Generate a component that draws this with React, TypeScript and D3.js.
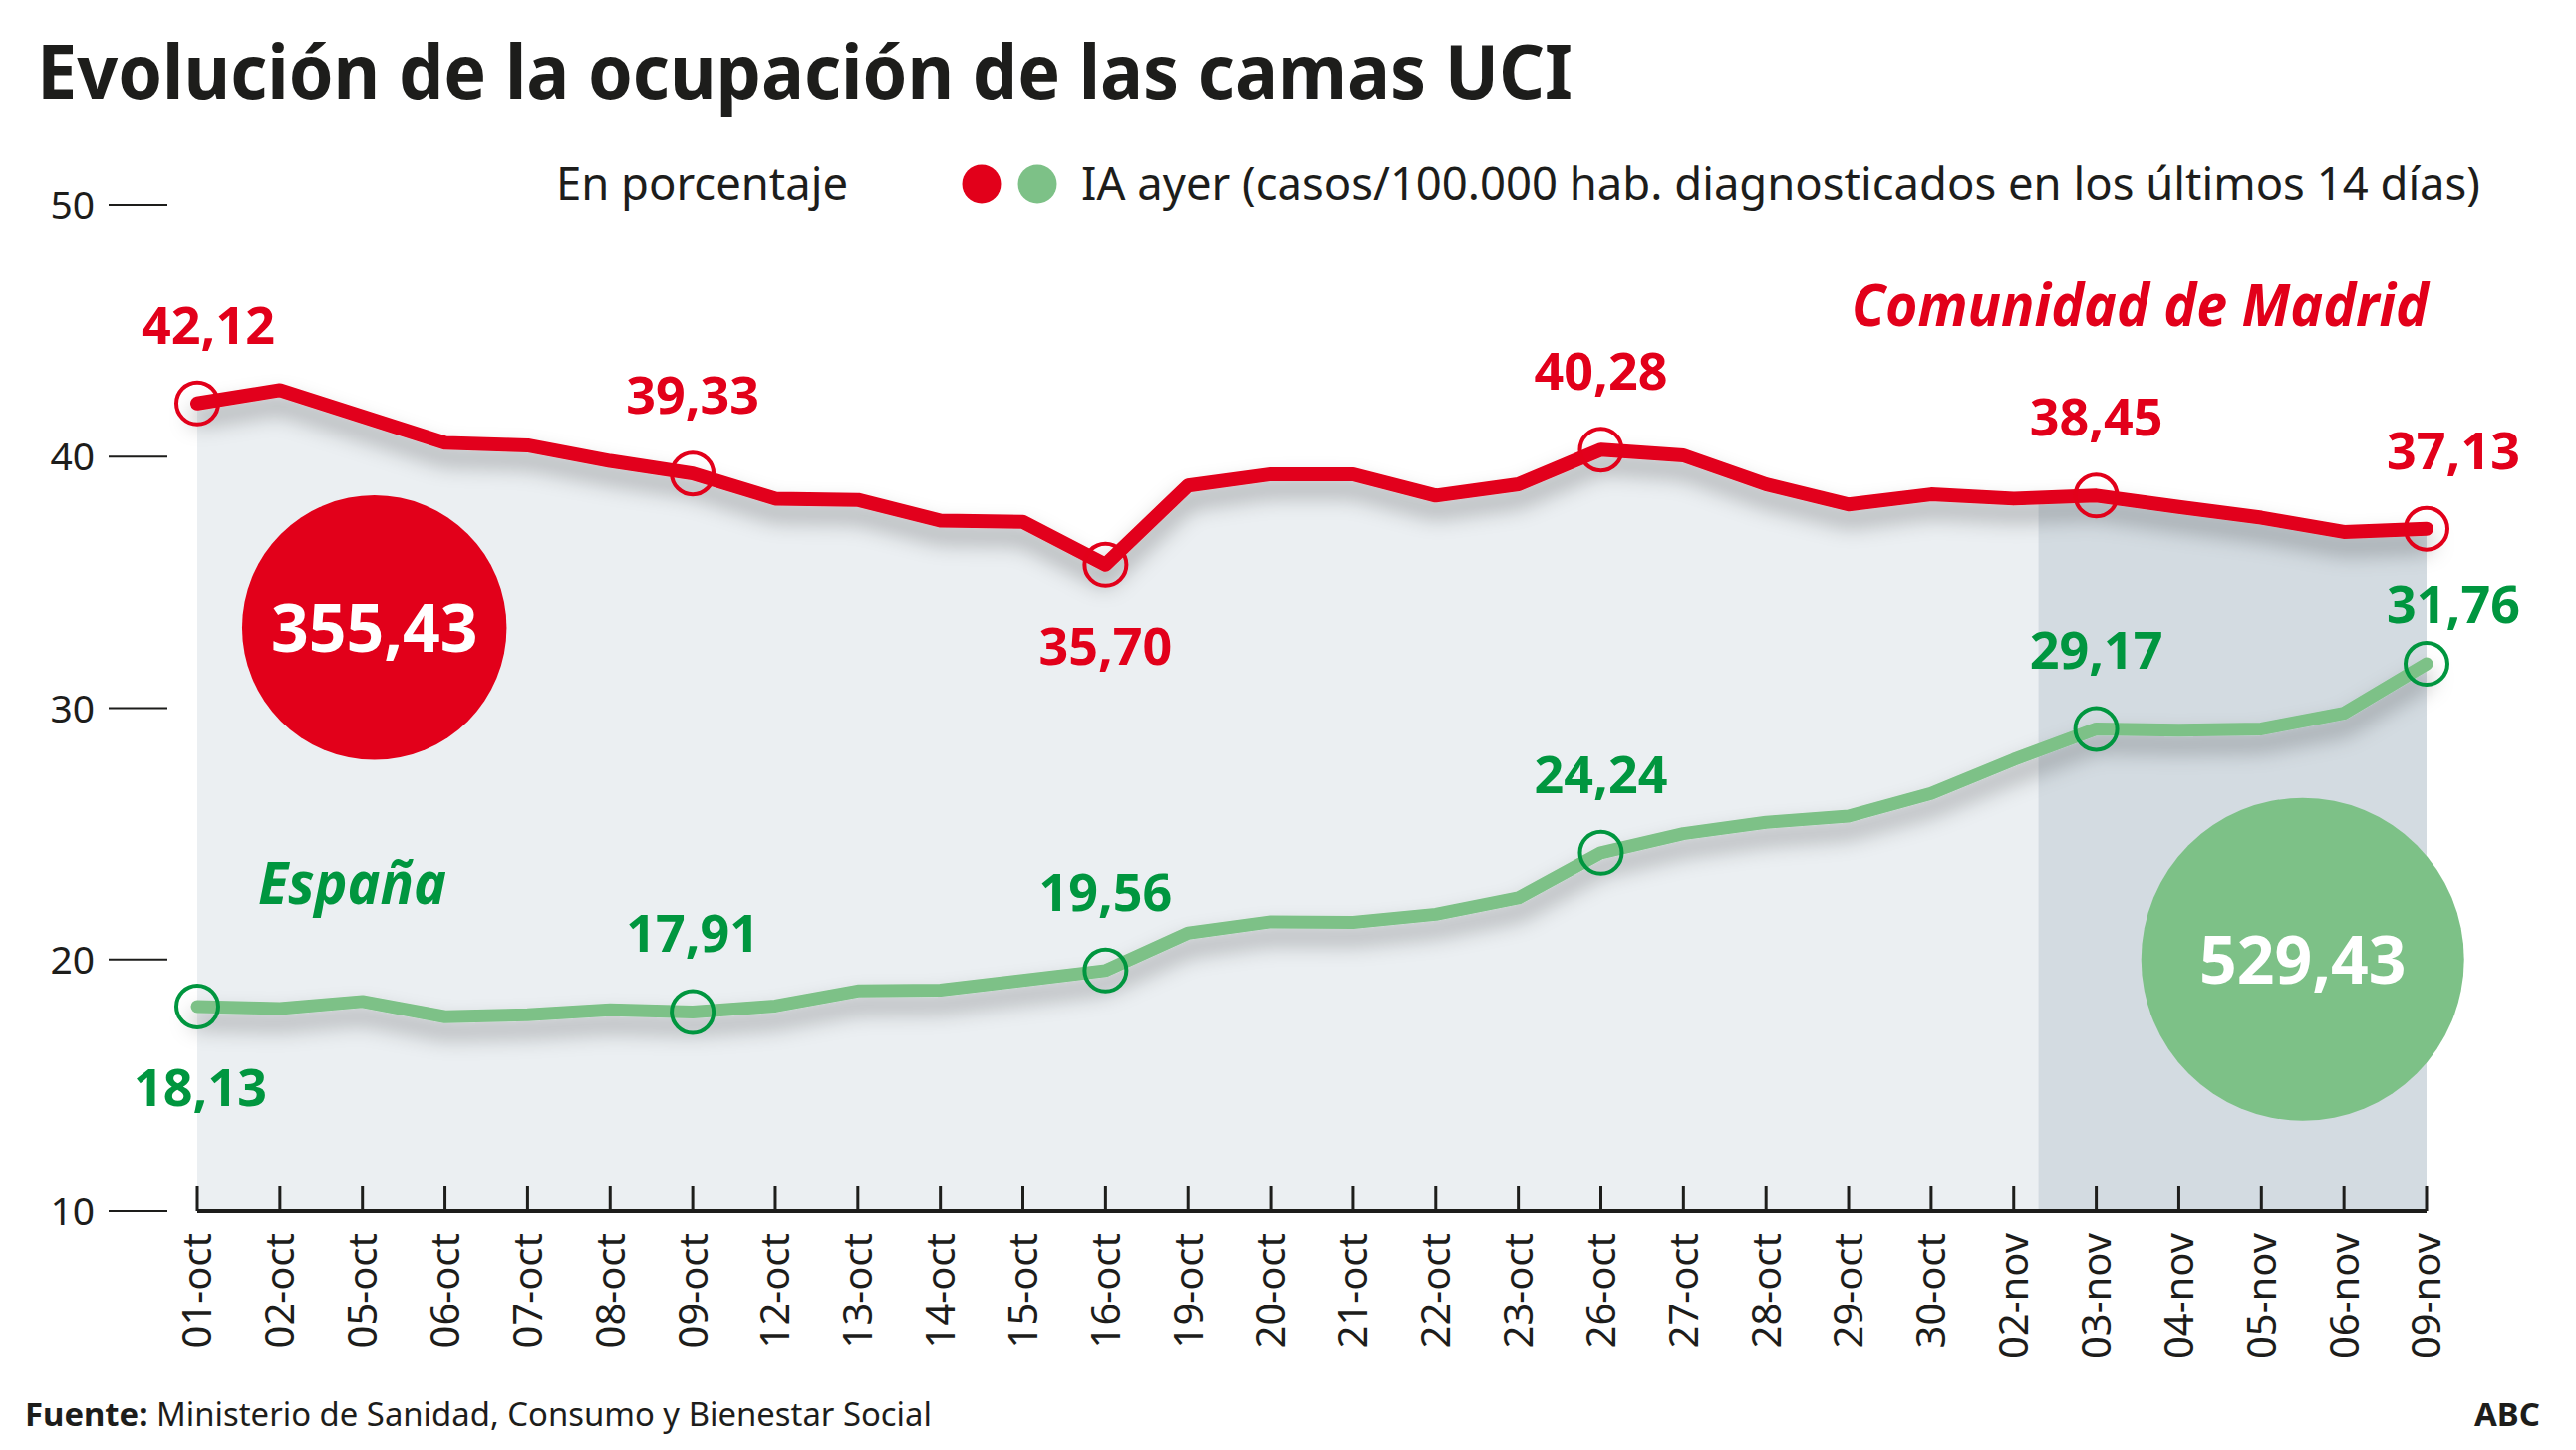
import React from "react";
import * as d3 from "d3";

// ---- data ----
const categories = [
  "01-oct", "02-oct", "05-oct", "06-oct", "07-oct", "08-oct", "09-oct", "12-oct", "13-oct", "14-oct",
  "15-oct", "16-oct", "19-oct", "20-oct", "21-oct", "22-oct", "23-oct", "26-oct", "27-oct", "28-oct",
  "29-oct", "30-oct", "02-nov", "03-nov", "04-nov", "05-nov", "06-nov", "09-nov",
];
const madrid = [
  42.12, 42.65, 41.6, 40.55, 40.45, 39.83, 39.33, 38.33, 38.28, 37.45,
  37.4, 35.7, 38.85, 39.3, 39.3, 38.45, 38.9, 40.28, 40.05, 38.9,
  38.1, 38.5, 38.33, 38.45, 38.0, 37.57, 37.0, 37.13,
];
const espana = [
  18.13, 18.05, 18.33, 17.72, 17.8, 18.0, 17.91, 18.15, 18.75, 18.78,
  19.17, 19.56, 21.05, 21.5, 21.48, 21.8, 22.45, 24.24, 25.0, 25.45,
  25.7, 26.6, 27.95, 29.17, 29.12, 29.17, 29.8, 31.76,
];
const markedDates = ["01-oct", "09-oct", "16-oct", "26-oct", "03-nov", "09-nov"];
const madridLabelSide = ["above", "above", "below", "above", "above", "above"];
const espanaLabelSide = ["below", "above", "above", "above", "above", "above"];
const yTicks = [10, 20, 30, 40, 50];
const highlightFrom = "02-nov";
const highlightTo = "09-nov";
const bubbleValues = [355.43, 529.43];
const seriesNames = ["Comunidad de Madrid", "España"];

const W = 2585;
const H = 1455;
const RED = "#e2001a";
const GREEN_LINE = "#7dc187";
const GREEN_TEXT = "#00963f";
const INK = "#1d1d1b";
const FONT = "'Noto Sans', 'Open Sans', sans-serif";

const esLocale = d3.formatLocale({ decimal: ",", thousands: ".", grouping: [3], currency: ["", " €"] });
const fmt = esLocale.format(".2f");

export default function App() {
  const x = d3.scalePoint<string>().domain(categories).range([198, 2435]);
  const y = d3.scaleLinear().domain([10, 50]).range([1215, 206]);
  const step = x.step();
  const r = d3.scaleSqrt().domain([0, d3.max(bubbleValues) as number]).range([0, 162]);

  const line = d3
    .line<number>()
    .x((_, i) => x(categories[i]) as number)
    .y((d) => y(d));
  const area = d3
    .area<number>()
    .x((_, i) => x(categories[i]) as number)
    .y0(y(10))
    .y1((d) => y(d));

  const hlX0 = (x(highlightFrom) as number) + step * 0.3;
  const hlX1 = x(highlightTo) as number;

  const markIdx = markedDates.map((d) => categories.indexOf(d));

  const labelY = (py: number, side: string, nudge = 0) =>
    side === "above" ? py - 60 + nudge : py + 100;
  const labelDx = (i: number) => (i === 0 ? 11 : i === categories.length - 1 ? 27 : 0);

  const bubbleX = [(x("05-oct") as number) + 12, ((x("05-nov") as number) + (x("06-nov") as number)) / 2];
  const bubbleY = [y(33.2), y(20)];
  const bubbleColors = [RED, GREEN_LINE];

  return (
    <svg
      width={W}
      height={H}
      viewBox={`0 0 ${W} ${H}`}
      style={{ position: "absolute", left: 0, top: 0, display: "block", background: "#fff" }}
      fontFamily={FONT}
    >
      <defs>
        <filter id="shadow" filterUnits="userSpaceOnUse" x="0" y="0" width={W} height={H}>
          <feGaussianBlur in="SourceAlpha" stdDeviation="11" />
          <feOffset dy="14" result="blur" />
          <feFlood floodColor="#000" floodOpacity="0.33" />
          <feComposite in2="blur" operator="in" />
          <feMerge>
            <feMergeNode />
            <feMergeNode in="SourceGraphic" />
          </feMerge>
        </filter>
        <clipPath id="underRed">
          <path d={area(madrid) as string} />
        </clipPath>
      </defs>

      {/* title */}
      <text x={37} y={99} fontSize={76} fontWeight={700} fill={INK} textLength={1541} lengthAdjust="spacingAndGlyphs">
        Evolución de la ocupación de las camas UCI
      </text>

      {/* legend row */}
      <text x={558} y={201} fontSize={46} fill={INK} textLength={293} lengthAdjust="spacingAndGlyphs">
        En porcentaje
      </text>
      <circle cx={985} cy={185} r={19.5} fill={RED} />
      <circle cx={1041} cy={185} r={19.5} fill={GREEN_LINE} />
      <text x={1085} y={201} fontSize={46} fill={INK} textLength={1404} lengthAdjust="spacingAndGlyphs">
        IA ayer (casos/100.000 hab. diagnosticados en los últimos 14 días)
      </text>

      {/* shaded areas */}
      <path d={area(madrid) as string} fill="#ebeff2" />
      <rect x={hlX0} y={0} width={hlX1 - hlX0} height={y(10)} fill="#d3dbe1" clipPath="url(#underRed)" />

      {/* y axis */}
      {yTicks.map((t) => (
        <g key={t}>
          <line x1={109} x2={168} y1={y(t)} y2={y(t)} stroke={INK} strokeWidth={2} />
          <text x={95} y={y(t)} dy="0.36em" textAnchor="end" fontSize={39} fill={INK}>
            {t}
          </text>
        </g>
      ))}

      {/* x axis */}
      <line x1={x(categories[0])} x2={x(categories[categories.length - 1])} y1={y(10)} y2={y(10)} stroke={INK} strokeWidth={4} />
      {categories.map((c) => (
        <g key={c} transform={`translate(${x(c)},${y(10)})`}>
          <line y1={0} y2={-25} stroke={INK} strokeWidth={3} />
          <text transform="rotate(-90)" x={-22} y={0} dy="0.36em" textAnchor="end" fontSize={40} fill={INK}>
            {c}
          </text>
        </g>
      ))}

      {/* bubbles */}
      {bubbleValues.map((v, i) => (
        <g key={i}>
          <circle cx={bubbleX[i]} cy={bubbleY[i]} r={r(v)} fill={bubbleColors[i]} />
          <text x={bubbleX[i]} y={bubbleY[i]} dy="0.36em" textAnchor="middle" fontSize={66} fontWeight={700} fill="#fff">
            {fmt(v)}
          </text>
        </g>
      ))}

      {/* lines */}
      <path d={line(madrid) as string} fill="none" stroke={RED} strokeWidth={14} strokeLinejoin="round" strokeLinecap="round" filter="url(#shadow)" />
      <path d={line(espana) as string} fill="none" stroke={GREEN_LINE} strokeWidth={13} strokeLinejoin="round" strokeLinecap="round" filter="url(#shadow)" />

      {/* markers and labels */}
      {markIdx.map((idx, k) => (
        <g key={"m" + idx}>
          <circle cx={x(categories[idx])} cy={y(madrid[idx])} r={21} fill="none" stroke={RED} strokeWidth={4} />
          <text
            x={(x(categories[idx]) as number) + labelDx(idx)}
            y={labelY(y(madrid[idx]), madridLabelSide[k])}
            textAnchor="middle"
            fontSize={52}
            fontWeight={700}
            fill={RED}
          >
            {fmt(madrid[idx])}
          </text>
          <circle cx={x(categories[idx])} cy={y(espana[idx])} r={21} fill="none" stroke={GREEN_TEXT} strokeWidth={4} />
          <text
            x={(x(categories[idx]) as number) + (idx === 0 ? 3 : labelDx(idx))}
            y={labelY(y(espana[idx]), espanaLabelSide[k], idx === categories.length - 1 ? 19 : 0)}
            textAnchor="middle"
            fontSize={52}
            fontWeight={700}
            fill={GREEN_TEXT}
          >
            {fmt(espana[idx])}
          </text>
        </g>
      ))}

      {/* series names */}
      <text x={2437} y={y(45.2)} textAnchor="end" fontSize={60} fontWeight={700} fontStyle="italic" fill={RED} textLength={579} lengthAdjust="spacingAndGlyphs">
        {seriesNames[0]}
      </text>
      <text x={259} y={y(22.2)} fontSize={60} fontWeight={700} fontStyle="italic" fill={GREEN_TEXT} textLength={189} lengthAdjust="spacingAndGlyphs">
        {seriesNames[1]}
      </text>

      {/* footer */}
      <text x={25} y={1431} fontSize={33} fill={INK} textLength={910} lengthAdjust="spacingAndGlyphs">
        <tspan fontWeight={700}>Fuente:</tspan> Ministerio de Sanidad, Consumo y Bienestar Social
      </text>
      <text x={2549} y={1431} textAnchor="end" fontSize={33} fontWeight={700} fill={INK}>
        ABC
      </text>
    </svg>
  );
}
